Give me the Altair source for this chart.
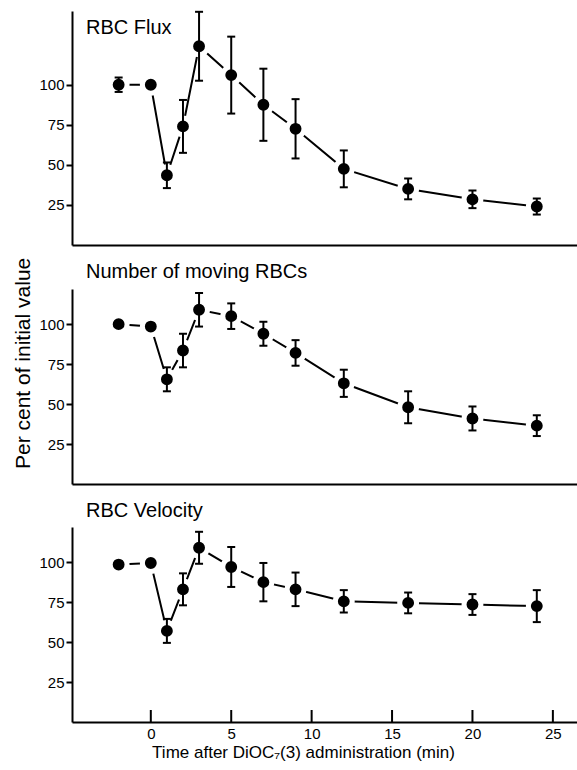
import altair as alt
import pandas as pd

# ---- data ----
time = [-2, 0, 1, 2, 3, 5, 7, 9, 12, 16, 20, 24]
flux = [100, 100, 43.5, 74, 124, 106, 87.5, 72.5, 47.5, 35, 28.5, 24]
flux_err = [4.5, 0, 8, 16.5, 21.5, 24, 22.5, 18.5, 11.5, 6.5, 5.5, 5]
moving = [100, 98.5, 65.5, 83.5, 109, 105, 94, 82, 63, 48, 41, 36.5]
moving_err = [0, 0, 7.5, 10.5, 10.5, 8, 7.5, 8, 8.5, 10, 7.5, 6.5]
velocity = [98.5, 99.5, 57, 83, 109, 97, 87.5, 83, 75.5, 74.5, 73.5, 72.5]
velocity_err = [0, 0, 7.5, 10, 10, 12.5, 12, 10.5, 7, 6.5, 6.5, 10]
x_ticks = [0, 5, 10, 15, 20, 25]
y_ticks = [25, 50, 75, 100]

FONT = "Liberation Sans"
XDOM = [-4.9, 26.5]
W = 505


def panel(vals, errs, ymax, h, title, bottom=False, title_y=-11):
    df = pd.DataFrame({"t": time, "v": vals, "e": errs})
    df["lo"] = df["v"] - df["e"]
    df["hi"] = df["v"] + df["e"]
    base = alt.Chart(df)

    if bottom:
        xax = alt.Axis(title="Time after DiOC\u2087(3) administration (min)", values=x_ticks,
                       ticks=False, labelFont=FONT, labelFontSize=15, labelPadding=4,
                       titleFont=FONT, titleFontSize=17, titleFontWeight="normal",
                       titlePadding=3, titleX=231, domainWidth=2, grid=False,
                       labelColor="black", titleColor="black")
    else:
        xax = alt.Axis(title=None, labels=False, ticks=False, domainWidth=2, grid=False)

    yax = alt.Axis(values=y_ticks, tickSize=6, tickWidth=2, labelPadding=2,
                   labelFont=FONT, labelFontSize=15, labelColor="black",
                   domainWidth=2, grid=False, title=None)

    x = alt.X("t:Q", scale=alt.Scale(domain=XDOM, nice=False, zero=False), axis=xax)
    y = alt.Y("v:Q", scale=alt.Scale(domain=[0, ymax], nice=False), axis=yax)

    line = base.mark_line(color="black", strokeWidth=2).encode(x=x, y=y)
    # black dot (r=7) with a white halo so the connecting line stops short of it
    pts = base.mark_circle(size=284, fill="black", opacity=1, fillOpacity=1,
                           stroke="white", strokeWidth=5,
                           strokeOpacity=1).encode(x="t:Q", y="v:Q")
    eb = base.transform_filter("datum.e > 0")
    rules = eb.mark_rule(color="black", strokeWidth=2).encode(x="t:Q", y="lo:Q", y2="hi:Q")
    cap_lo = eb.mark_tick(color="black", orient="horizontal", size=8, thickness=2,
                          opacity=1).encode(x="t:Q", y="lo:Q")
    cap_hi = eb.mark_tick(color="black", orient="horizontal", size=8, thickness=2,
                          opacity=1).encode(x="t:Q", y="hi:Q")
    layers = [line, pts, rules, cap_lo, cap_hi]

    if bottom:
        tk = alt.Chart(pd.DataFrame({"t": x_ticks})).mark_rule(
            color="black", strokeWidth=2).encode(
            x="t:Q", y=alt.value(h), y2=alt.value(h - 12))
        layers.append(tk)

    txt = alt.Chart(pd.DataFrame({"label": [title]})).mark_text(
        align="left", baseline="alphabetic", font=FONT, fontSize=20,
        color="black").encode(text="label:N", x=alt.value(14), y=alt.value(title_y))
    layers.append(txt)
    return alt.layer(*layers).properties(width=W, height=h)


p1 = panel(flux, flux_err, 146, 234, "RBC Flux", title_y=23)
p2 = panel(moving, moving_err, 122, 195, "Number of moving RBCs")
p3 = panel(velocity, velocity_err, 122, 195, "RBC Velocity", bottom=True, title_y=-10)

chart = alt.vconcat(p1, p2, p3, spacing=17).properties(
    title=alt.TitleParams("Per cent of initial value", orient="left", anchor="middle",
                          font=FONT, fontSize=21, fontWeight="normal", color="black",
                          offset=5, dx=22),
    padding={"left": 12, "top": 10, "right": 0, "bottom": 2},
    background="white",
).configure_view(stroke=None).configure_axis(domainColor="black", tickColor="black")

chart.save("out.html", embed_options={"renderer": "svg", "actions": False})
